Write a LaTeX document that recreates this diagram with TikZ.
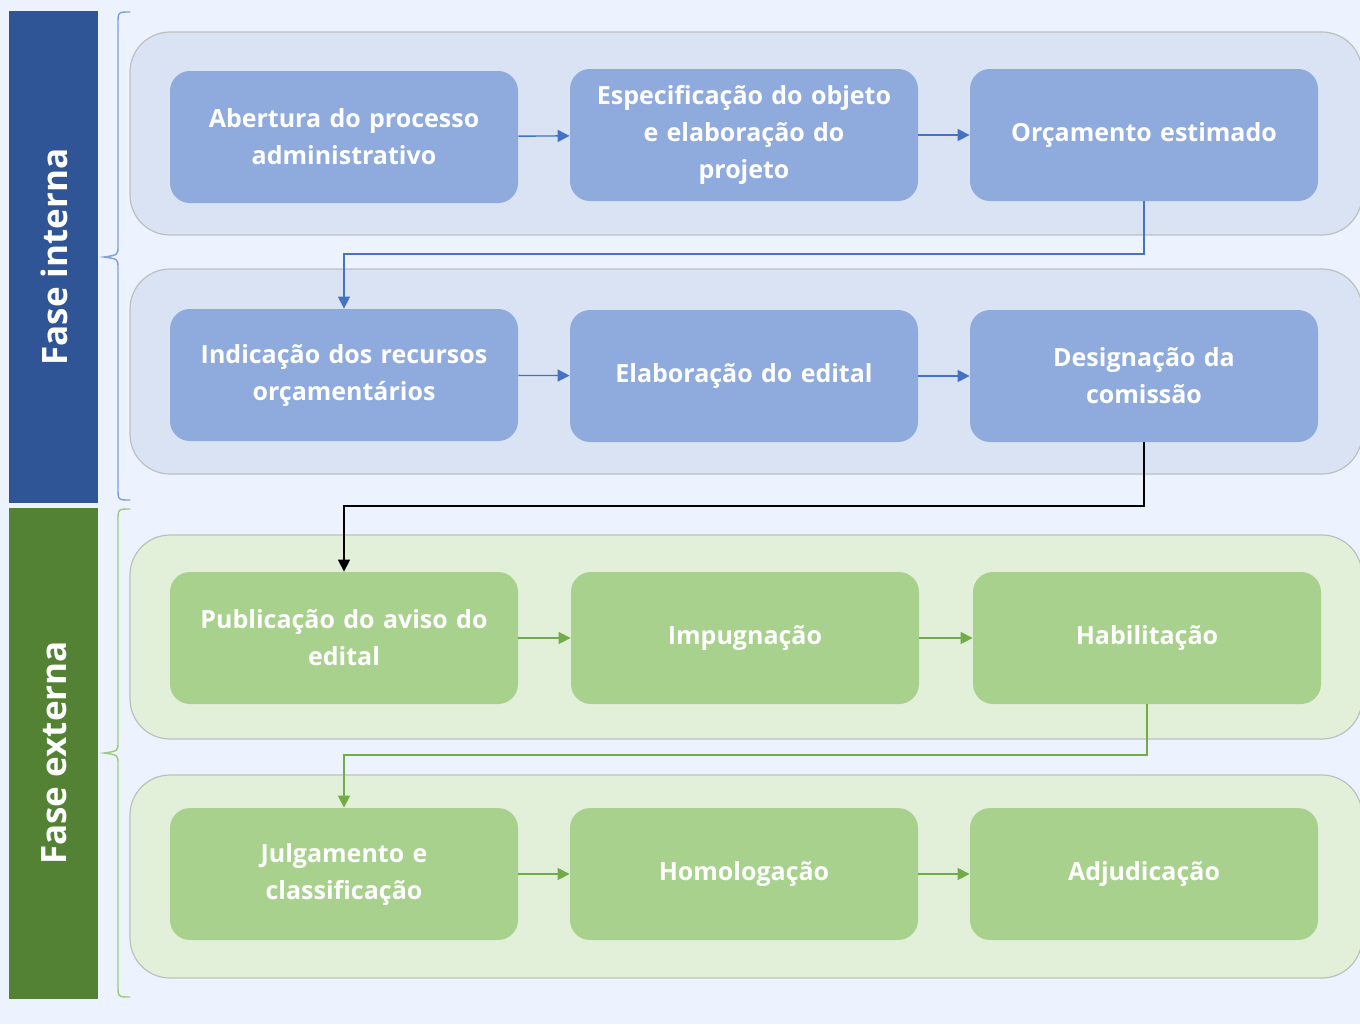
\documentclass[tikz,border=0pt]{standalone}
\usepackage{fontspec}
\setmainfont{Open Sans}
\usetikzlibrary{arrows.meta}
\definecolor{pagebg}{HTML}{ECF2FE}
\definecolor{internadark}{HTML}{2F5597}
\definecolor{externadark}{HTML}{548235}
\definecolor{internaband}{HTML}{DAE3F3}
\definecolor{externaband}{HTML}{E2F0D9}
\definecolor{internabox}{HTML}{8FAADC}
\definecolor{externabox}{HTML}{A9D18E}
\definecolor{internaline}{HTML}{4472C4}
\definecolor{externaline}{HTML}{70AD47}
\tikzset{
  band/.style={draw=black!25, line width=0.6pt, rounded corners=20pt},
  stepbox/.style={rounded corners=10pt, minimum width=174pt, minimum height=66pt,
    text width=166pt, align=center, text=white, inner sep=0pt,
    font=\fontsize{12.5}{18.5}\selectfont\bfseries},
  bluebox/.style={stepbox, fill=internabox},
  greenbox/.style={stepbox, fill=externabox},
  flow/.style={line width=0.7pt, -{Triangle[length=6pt,width=6pt]}},
  phase/.style={rotate=90, text=white, font=\fontsize{17.5}{20}\selectfont\bfseries},
  brace line/.style={line width=0.7pt, line cap=round}
}
\begin{document}
\begin{tikzpicture}[x=0.5pt,y=-0.5pt]
\useasboundingbox (0,0) rectangle (1360,1024);
\clip (0,0) rectangle (1360,1024);
\fill[pagebg] (0,0) rectangle (1360,1024);

% fases
\fill[internadark] (9,11) rectangle (98,503);
\fill[externadark] (9,508) rectangle (98,999);
\node[phase] (interna) at (54,257) {Fase interna};
\node[phase] (externa) at (54,753) {Fase externa};

% chaves
\draw[brace line, internabox!80!internaline] (130,12) .. controls (118,12) .. (118,24) -- (118,246)
  .. controls (118,255) .. (104,257) .. controls (118,259) .. (118,268) -- (118,488)
  .. controls (118,500) .. (130,500);
\draw[brace line, externabox!80!externaline] (130,509) .. controls (118,509) .. (118,521) -- (118,742)
  .. controls (118,751) .. (104,753) .. controls (118,755) .. (118,764) -- (118,985)
  .. controls (118,997) .. (130,997);

% faixas
\filldraw[band, fill=internaband] (130,32) rectangle (1362,235);
\filldraw[band, fill=internaband] (130,269) rectangle (1362,474);
\filldraw[band, fill=externaband] (130,535) rectangle (1362,739);
\filldraw[band, fill=externaband] (130,775) rectangle (1362,978);

% fase interna
\node[bluebox] (abertura) at (344,137) {Abertura do processo\\administrativo};
\node[bluebox] (especificacao) at (744,135) {Especificação do objeto\\e elaboração do\\projeto};
\node[bluebox] (orcamento) at (1144,135) {Orçamento estimado};
\node[bluebox] (indicacao) at (344,375) {Indicação dos recursos\\orçamentários};
\node[bluebox] (edital) at (744,376) {Elaboração do edital};
\node[bluebox] (designacao) at (1144,376) {Designação da\\comissão};

% fase externa
\node[greenbox] (publicacao) at (344,638) {Publicação do aviso do\\edital};
\node[greenbox] (impugnacao) at (745,638) {Impugnação};
\node[greenbox] (habilitacao) at (1147,638) {Habilitação};
\node[greenbox] (julgamento) at (344,874) {Julgamento e\\classificação};
\node[greenbox] (homologacao) at (744,874) {Homologação};
\node[greenbox] (adjudicacao) at (1144,874) {Adjudicação};

\coordinate (turn1) at (0,254);
\coordinate (turn2) at (0,506);
\coordinate (turn3) at (0,755);

\draw[flow, internaline] (abertura) -- (especificacao);
\draw[flow, internaline] (especificacao) -- (orcamento);
\draw[flow, internaline] (orcamento.south) -- (orcamento.south |- turn1) -| (indicacao.north);
\draw[flow, internaline] (indicacao) -- (edital);
\draw[flow, internaline] (edital) -- (designacao);
\draw[flow, black] (designacao.south) -- (designacao.south |- turn2) -| (publicacao.north);
\draw[flow, externaline] (publicacao) -- (impugnacao);
\draw[flow, externaline] (impugnacao) -- (habilitacao);
\draw[flow, externaline] (habilitacao.south) -- (habilitacao.south |- turn3) -| (julgamento.north);
\draw[flow, externaline] (julgamento) -- (homologacao);
\draw[flow, externaline] (homologacao) -- (adjudicacao);
\end{tikzpicture}
\end{document}
